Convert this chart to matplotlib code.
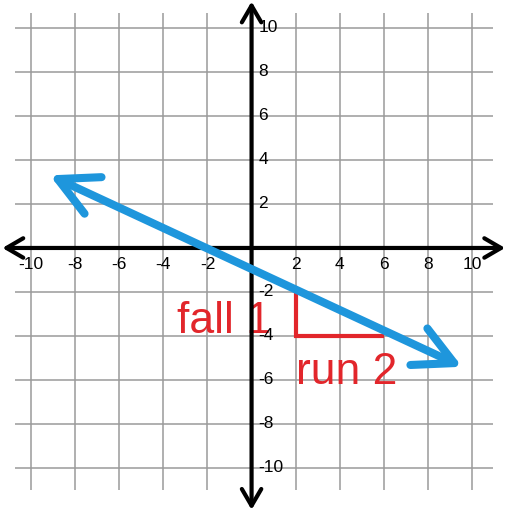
import matplotlib
matplotlib.use("Agg")
import matplotlib.pyplot as plt
from matplotlib.patches import FancyArrowPatch, ArrowStyle

plt.rcParams['font.family'] = ['Liberation Sans', 'DejaVu Sans']

# values
ticks = [-10, -8, -6, -4, -2, 2, 4, 6, 8, 10]
grid_vals = [-10, -8, -6, -4, -2, 2, 4, 6, 8, 10]
line_x = [-9.15, 9.55]
line_y = [3.3, -5.4]
step_x = [2, 2, 6]
step_y = [-2, -4, -4]
fall_label = "fall 1"
run_label = "run 2"

blue = "#1e96dc"
red = "#e2262b"

fig = plt.figure(figsize=(5.06, 5.12), dpi=100)
ax = fig.add_axes([0, 0, 1, 1])
ax.set_xlim(-11.41, 11.54)
ax.set_ylim(-12.0, 11.27)
ax.axis("off")

# grid every 2 units
ax.vlines(grid_vals, -11.0, 10.7, color="#9a9a9a", lw=1.1, zorder=1)
ax.hlines(grid_vals, -10.75, 10.95, color="#9a9a9a", lw=1.1, zorder=1)

# axes with arrow heads at both ends
axis_style = ArrowStyle("<->", head_length=12, head_width=7)
ax.add_patch(FancyArrowPatch((-11.3, 0), (11.5, 0), arrowstyle=axis_style,
                             mutation_scale=1, lw=3, color="black",
                             shrinkA=0, shrinkB=0, zorder=3))
ax.add_patch(FancyArrowPatch((0, -11.9), (0, 11.2), arrowstyle=axis_style,
                             mutation_scale=1, lw=3, color="black",
                             shrinkA=0, shrinkB=0, zorder=3))

# tick labels
for t in ticks:
    ax.text(t, -0.4, str(t), ha="center", va="top", fontsize=12.5, zorder=5)
    ax.text(0.3, t, str(t), ha="left", va="center", fontsize=12.5, zorder=5)

# rise/run triangle
ax.plot(step_x, step_y, color=red, lw=3, solid_joinstyle="miter",
        solid_capstyle="butt", zorder=2)

# the line
line_style = ArrowStyle("<->", head_length=28, head_width=14.5)
ax.add_patch(FancyArrowPatch((line_x[0], line_y[0]), (line_x[1], line_y[1]),
                             arrowstyle=line_style, mutation_scale=1, lw=5.8,
                             color=blue, shrinkA=0, shrinkB=0, zorder=4))

ax.text(0.86, -3.86, fall_label, color=red, fontsize=32, ha="right",
        va="baseline", zorder=2)
ax.text(2.0, -6.18, run_label, color=red, fontsize=32, ha="left",
        va="baseline", zorder=2)

fig.savefig("out.png", dpi=100)
